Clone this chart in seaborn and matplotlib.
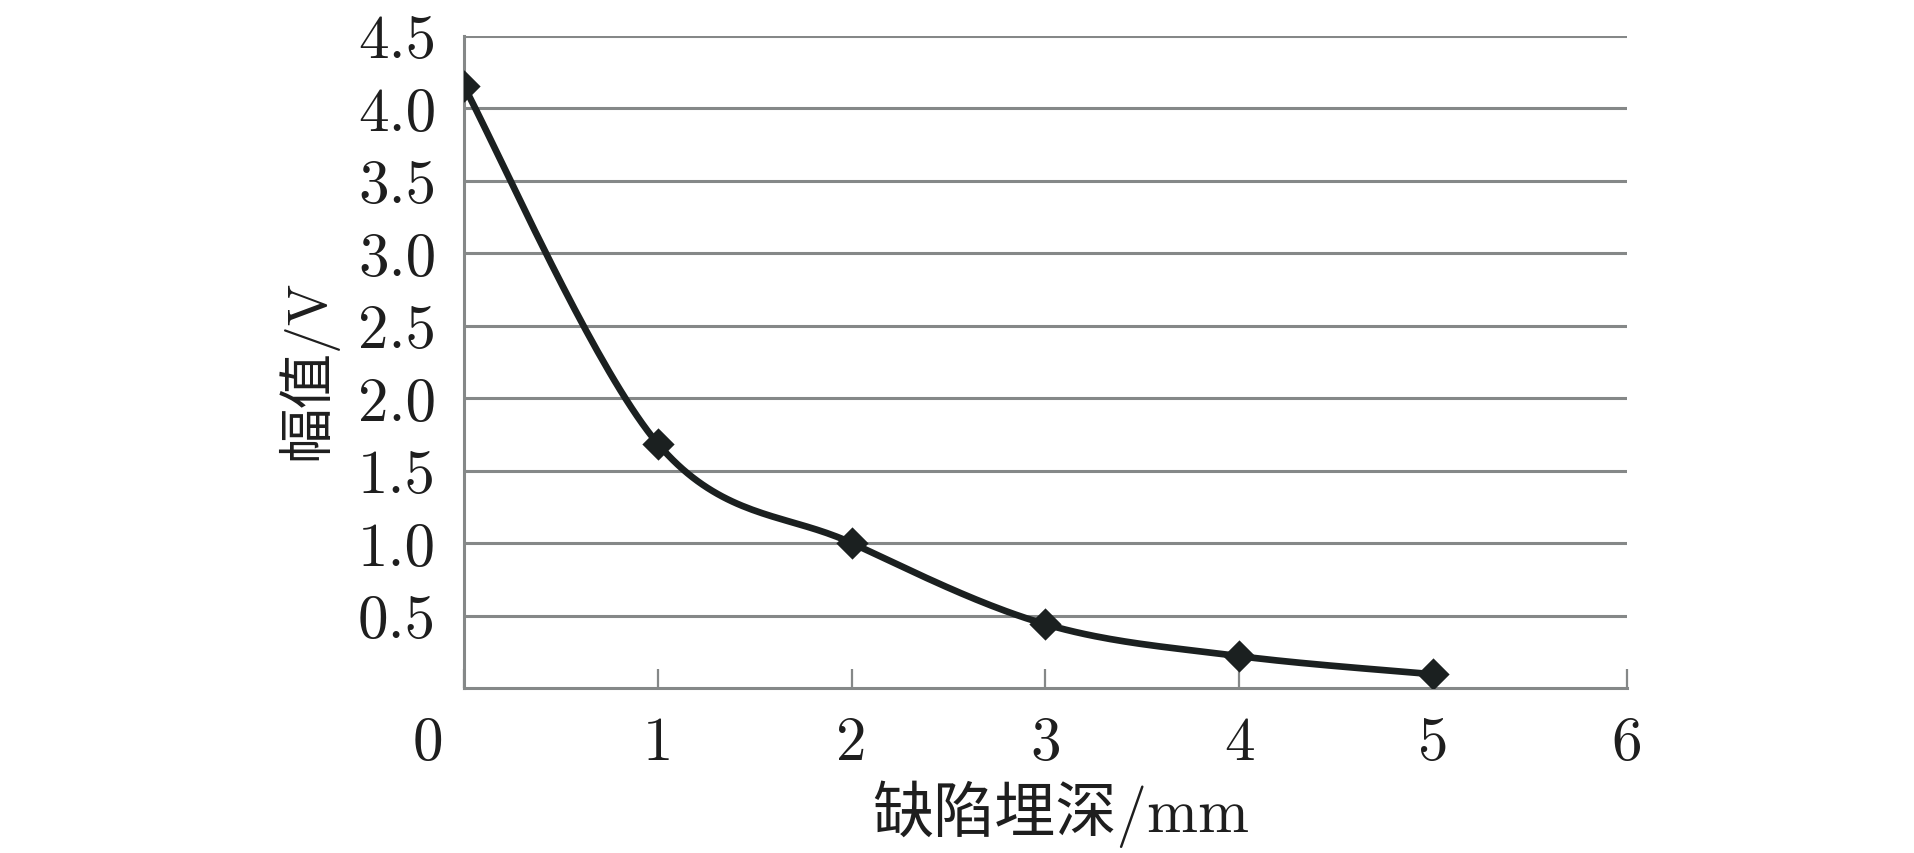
import numpy as np
import matplotlib
matplotlib.use("Agg")
import matplotlib.pyplot as plt
import matplotlib.transforms as mtransforms
import seaborn as sns

# data
depth = [0, 1, 2, 3, 4, 5]
amplitude = [4.15, 1.685, 1.0, 0.44, 0.22, 0.095]
x_ticks = [0, 1, 2, 3, 4, 5, 6]
y_ticks = [0.5, 1.0, 1.5, 2.0, 2.5, 3.0, 3.5, 4.0, 4.5]
x_label = "缺陷埋深/mm"
y_label = "幅值/V"

sns.set_style("white")
plt.rcParams["font.family"] = ["cmr10", "Noto Sans CJK SC", "DejaVu Sans"]


# Excel-style smoothed line through the points (Catmull-Rom as cubic Bezier)
def smooth_curve(xs, ys, n=40):
    pts = np.column_stack([xs, ys]).astype(float)
    padded = np.vstack([pts[0], pts, pts[-1]])
    out = []
    t = np.linspace(0, 1, n)[:, None]
    for i in range(len(pts) - 1):
        p0, p1, p2, p3 = padded[i], padded[i + 1], padded[i + 2], padded[i + 3]
        c1 = p1 + (p2 - p0) / 6
        c2 = p2 - (p3 - p1) / 6
        seg = ((1 - t) ** 3) * p1 + 3 * ((1 - t) ** 2) * t * c1 + 3 * (1 - t) * t ** 2 * c2 + t ** 3 * p2
        out.append(seg if i == 0 else seg[1:])
    out = np.vstack(out)
    return out[:, 0], out[:, 1]


sx, sy = smooth_curve(depth, amplitude)

fig = plt.figure(figsize=(19.15, 8.54), dpi=100)
ax = fig.add_axes([0.2423, 0.1932, 0.8496 - 0.2423, 0.9571 - 0.1932])

line_color = "#1b2020"
sns.lineplot(x=sx, y=sy, sort=False, color=line_color, linewidth=4.8, ax=ax, zorder=3)
sns.scatterplot(x=depth, y=amplitude, marker="D", s=270, color=line_color,
                edgecolor=line_color, linewidth=0, ax=ax, zorder=4)

ax.set_xlim(0, 6)
ax.set_ylim(0, 4.5)
ax.set_xticks(x_ticks)
ax.set_xticklabels([str(v) for v in x_ticks])
ax.set_yticks(y_ticks)
ax.set_yticklabels([f"{v:.1f}" for v in y_ticks])

grid_color = "#858888"
ax.yaxis.grid(True, color=grid_color, linewidth=2.2)
ax.xaxis.grid(False)
for side in ["top", "right"]:
    ax.spines[side].set_visible(False)
for side in ["left", "bottom"]:
    ax.spines[side].set_color(grid_color)
    ax.spines[side].set_linewidth(2.2)

ax.tick_params(axis="x", direction="in", length=14, width=1.6, color=grid_color,
               pad=20, labelsize=44, labelcolor="#1e1e1e", bottom=True)
ax.tick_params(axis="y", length=0, pad=20, labelsize=44, labelcolor="#1e1e1e")

# the "0" label sits left of the axis origin in the original
zero_lbl = ax.xaxis.get_major_ticks()[0].label1
zero_lbl.set_transform(zero_lbl.get_transform() + mtransforms.ScaledTranslation(-0.36, 0, fig.dpi_scale_trans))

ax.set_xlabel(x_label, fontsize=44, color="#1e1e1e")
ax.set_ylabel(y_label, fontsize=40, color="#1e1e1e")
ax.xaxis.set_label_coords(0.513, -0.14)
ax.yaxis.set_label_coords(-0.109, 0.49)

fig.savefig("out.png", dpi=100, facecolor="white")
